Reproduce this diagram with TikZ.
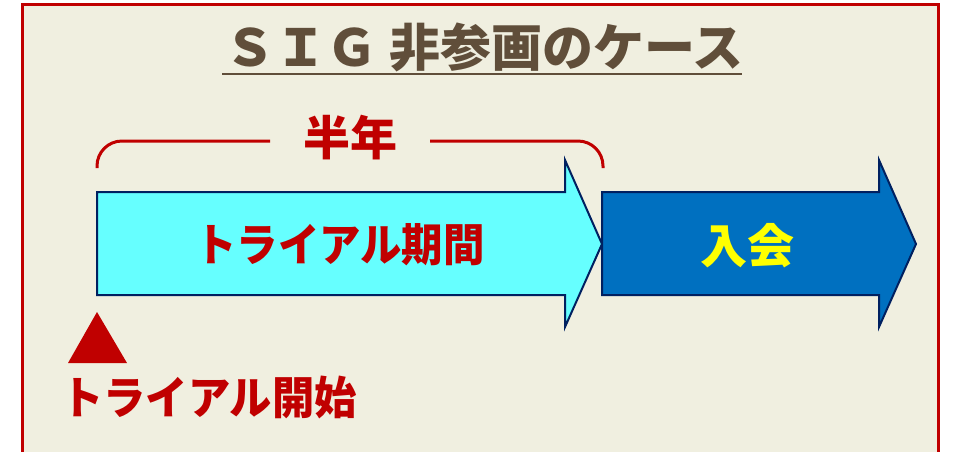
\documentclass[tikz,border=0pt]{standalone}
\usepackage{fontspec}
\newfontfamily\jp{Noto Sans CJK JP}
\definecolor{bgc}{RGB}{240,239,224}
\definecolor{redc}{RGB}{192,0,0}
\definecolor{brownc}{RGB}{96,78,58}
\definecolor{cyanc}{RGB}{102,255,255}
\definecolor{bluec}{RGB}{0,112,192}
\definecolor{navyc}{RGB}{0,32,96}
\definecolor{yellowc}{RGB}{255,255,0}
\tikzset{
  frame/.style={draw=redc, line width=3pt, fill=bgc},
  titletext/.style={text=brownc, font=\jp\bfseries\fontsize{51}{55}\selectfont, inner sep=0pt},
  labeltext/.style={font=\jp\bfseries\fontsize{45}{49}\selectfont, inner sep=0pt},
  arrowbox/.style={draw=navyc, line width=2pt, line join=miter},
  bracket/.style={draw=redc, line width=3pt, rounded corners=25pt},
}
\begin{document}
\begin{tikzpicture}[x=1pt,y=-1pt]
\useasboundingbox (0,0) rectangle (953,451);
\fill[white] (0,0) rectangle (953,451);
\draw[frame] (22,4) rectangle (938,480);
% title
\node[titletext] (title) at (484,47) {ＳＩＧ 非参画のケース};
\draw[brownc, line width=2.5pt] (222,74) -- (742,74);
% bracket
\node[labeltext, text=redc, font=\jp\bfseries\fontsize{47}{51}\selectfont] (half) at (350,138) {半年};
\draw[bracket] (97,168) -- (97,141) -- (270,141);
\draw[bracket] (430,141) -- (603,141) -- (603,168);
% arrows
\draw[arrowbox, fill=cyanc] (97,192) -- (565,192) -- (565,160) -- (602,244) -- (565,327) -- (565,295) -- (97,295) -- cycle;
\draw[arrowbox, fill=bluec] (602,192) -- (879,192) -- (879,160) -- (916,244) -- (879,327) -- (879,295) -- (602,295) -- cycle;
\node[labeltext, text=redc, xscale=0.92] (trial) at (340,245) {トライアル期間};
\node[labeltext, text=yellowc, font=\jp\bfseries\fontsize{47}{51}\selectfont] (join) at (747,246) {入会};
% start marker
\fill[redc] (97,312) -- (127,363) -- (68,363) -- cycle;
\node[labeltext, text=redc, xscale=0.94] (start) at (209,397) {トライアル開始};
\end{tikzpicture}
\end{document}
